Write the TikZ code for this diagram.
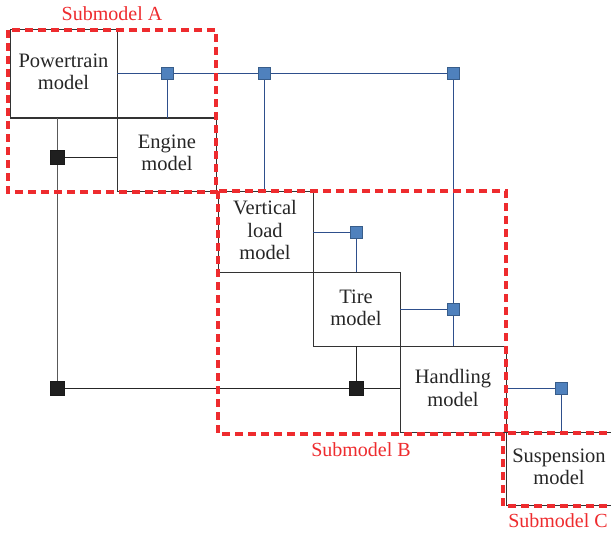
\documentclass[tikz,border=0pt]{standalone}
\usepackage{fontspec}
\setmainfont{Liberation Serif}
\definecolor{subred}{HTML}{EE2B2E}
\definecolor{linkblue}{HTML}{2E4F8C}
\definecolor{sqblue}{HTML}{4F81BD}
\definecolor{sqedge}{HTML}{385D8A}
\definecolor{boxline}{HTML}{333333}
\begin{document}
\begin{tikzpicture}[x=1pt,y=-1pt,
  model/.style={draw=boxline,line width=1pt},
  mtext/.style={font=\fontsize{20.5}{22.5}\selectfont,align=center,text=black!85,inner sep=0pt},
  sub/.style={draw=subred,line width=4pt,dash pattern=on 8pt off 5pt},
  sublabel/.style={font=\fontsize{20}{22}\selectfont,text=subred,inner sep=0pt},
  blink/.style={draw=linkblue,line width=0.9pt},
  klink/.style={draw=black!85,line width=1pt},
  bsq/.style={draw=sqedge,fill=sqblue,line width=0.6pt,minimum size=12pt,inner sep=0pt},
  ksq/.style={draw=black!90,fill=black!88,minimum size=14pt,inner sep=0pt}]
\useasboundingbox (0,0) rectangle (611,535);
% model boxes
\draw[model] (10,30) rectangle (117,118);
\draw[model] (117,118) rectangle (216,191);
\draw[model] (218,191) rectangle (313,272);
\draw[model] (313,272) rectangle (400,346);
\draw[model] (400,346) rectangle (506,432);
\draw[model] (506,432) rectangle (620,505);
\node[mtext] (pt) at (63.5,72) {Powertrain\\model};
\node[mtext] (en) at (167,153) {Engine\\model};
\node[mtext] (vl) at (265,230) {Vertical\\load\\model};
\node[mtext] (ti) at (356,308) {Tire\\model};
\node[mtext] (ha) at (453,388) {Handling\\model};
\node[mtext] (su) at (559,467) {Suspension\\model};
% coordinates on box edges
\coordinate (ptR) at (117,73);
\coordinate (enT) at (167,118);
\coordinate (vlT) at (264,191);
\coordinate (vlR) at (313,232);
\coordinate (tiT) at (356,272);
\coordinate (tiR) at (400,309);
\coordinate (tiB) at (356,346);
\coordinate (haT) at (453,346);
\coordinate (haR) at (506,388);
\coordinate (haL) at (400,388);
\coordinate (suT) at (561,432);
\coordinate (ptB) at (57,118);
\coordinate (enL) at (117,157);
% squares
\node[bsq] (b1) at (167,73) {};
\node[bsq] (b2) at (264,73) {};
\node[bsq] (b3) at (453,73) {};
\node[bsq] (b4) at (356,232) {};
\node[bsq] (b5) at (453,309) {};
\node[bsq] (b6) at (561,388) {};
\node[ksq] (k1) at (57,157) {};
\node[ksq] (k2) at (57,388) {};
\node[ksq] (k3) at (356,388) {};
% blue links
\draw[blink] (ptR) -- (b1) -- (b2) -- (b3);
\draw[blink] (b1) -- (enT);
\draw[blink] (b2) -- (vlT);
\draw[blink] (b3) -- (b5) -- (haT);
\draw[blink] (vlR) -- (b4) -- (tiT);
\draw[blink] (tiR) -- (b5);
\draw[blink] (haR) -- (b6) -- (suT);
% black links
\draw[klink,draw=black!65] (ptB) -- (k1) -- (k2);
\draw[klink] (k1) -- (enL);
\draw[klink] (k2) -- (k3) -- (haL);
\draw[klink] (tiB) -- (k3);
% redraw squares on top
\node[bsq] at (b1) {};
\node[bsq] at (b2) {};
\node[bsq] at (b3) {};
\node[bsq] at (b4) {};
\node[bsq] at (b5) {};
\node[bsq] at (b6) {};
\node[ksq] at (k1) {};
\node[ksq] at (k2) {};
\node[ksq] at (k3) {};
% submodel frames
\draw[sub] (8,30) rectangle (216,192);
\draw[sub] (218,191) rectangle (506,434);
\draw[sub] (503,433) rectangle (625,506);
\node[sublabel] (la) at (112,14) {Submodel A};
\node[sublabel] (lb) at (361,450) {Submodel B};
\node[sublabel] (lc) at (558,521) {Submodel C};
\end{tikzpicture}
\end{document}
